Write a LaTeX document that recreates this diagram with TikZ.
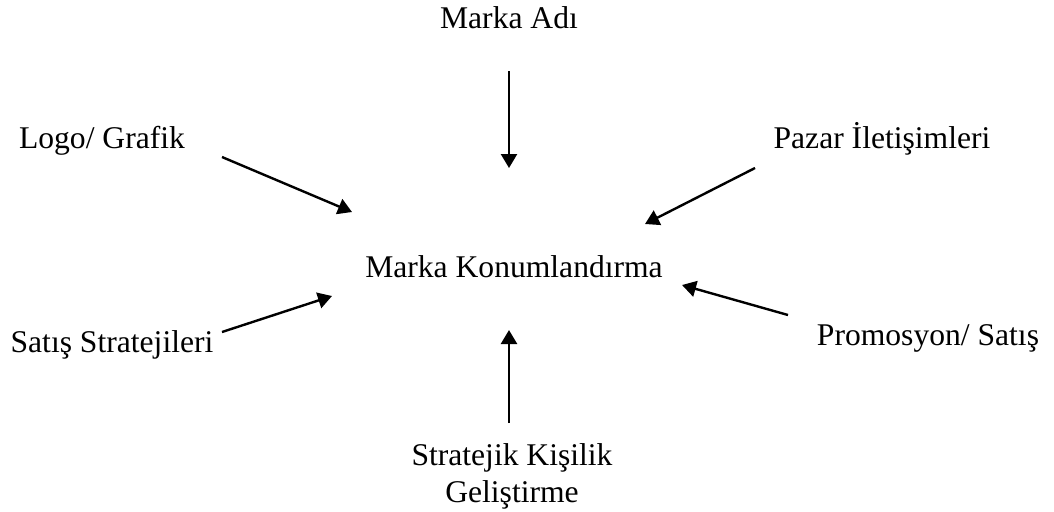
\documentclass[tikz,border=0pt]{standalone}
\usepackage{fontspec}
\setmainfont{Liberation Serif}
\usetikzlibrary{arrows.meta}

\tikzset{
  lbl/.style={anchor=base, inner sep=0pt, font=\fontsize{15.8}{18.5}\selectfont},
  pointer/.style={line width=1.2pt, -{Triangle[length=7pt,width=8pt]}}
}

\begin{document}
\begin{tikzpicture}[x=0.5pt,y=-0.5pt]
\useasboundingbox (0,0) rectangle (1054,511);

% labels
\node[lbl] (center) at (514,277) {Marka Konumlandırma};
\node[lbl] (name) at (509,28) {Marka Adı};
\node[lbl] (logo) at (102,148) {Logo/ Grafik};
\node[lbl] (market) at (882,148) {Pazar İletişimleri};
\node[lbl] (sales) at (112,352) {Satış Stratejileri};
\node[lbl] (promo) at (928,345) {Promosyon/ Satış};
\node[lbl, align=center] (person) at (512,502) {Stratejik Kişilik\\Geliştirme};

% arrow ends
\coordinate (nameS) at (509,71);   \coordinate (nameT) at (509,168);
\coordinate (logoS) at (222,157);  \coordinate (logoT) at (352,212);
\coordinate (marketS) at (755,168); \coordinate (marketT) at (645,224);
\coordinate (salesS) at (222,332); \coordinate (salesT) at (332,296);
\coordinate (promoS) at (788,315); \coordinate (promoT) at (682,285);
\coordinate (personS) at (509,423); \coordinate (personT) at (509,330);

\draw[pointer] (nameS) -- (nameT);
\draw[pointer] (logoS) -- (logoT);
\draw[pointer] (marketS) -- (marketT);
\draw[pointer] (salesS) -- (salesT);
\draw[pointer] (promoS) -- (promoT);
\draw[pointer] (personS) -- (personT);

\end{tikzpicture}
\end{document}
